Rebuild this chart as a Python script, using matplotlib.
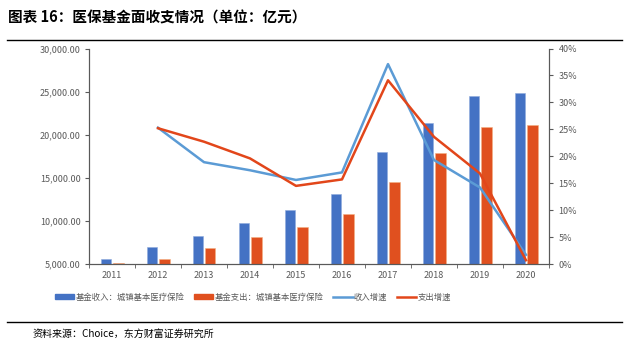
import numpy as np
import matplotlib.pyplot as plt
from matplotlib.ticker import FuncFormatter, MultipleLocator
from matplotlib.lines import Line2D

plt.rcParams['font.family'] = ['Noto Sans CJK SC', 'DejaVu Sans']

# 数据（单位：亿元 / %）
years = ['2011', '2012', '2013', '2014', '2015', '2016', '2017', '2018', '2019', '2020']
income = [5545, 6972, 8283, 9722, 11230, 13086, 17958, 21392, 24455, 24872]
expense = [5110, 5545, 6821, 8167, 9327, 10766, 14478, 17877, 20893, 21090]
income_growth = [np.nan, 25.3, 18.9, 17.4, 15.6, 17.0, 37.1, 19.3, 14.2, 1.7]
expense_growth = [np.nan, 25.2, 22.7, 19.6, 14.5, 15.7, 34.1, 23.6, 16.8, 0.7]

c_inc_bar = '#4472C4'
c_exp_bar = '#E0501F'
c_inc_line = '#5B9BD5'
c_exp_line = '#E2461A'
c_axis = '#595959'
c_text = '#595959'

fig = plt.figure(figsize=(6.4, 3.53), dpi=100)
ax = fig.add_axes([89 / 640, 1 - 264 / 353, 460 / 640, 215.5 / 353])
ax2 = ax.twinx()

x = np.arange(len(years))
w = 0.22
ax.bar(x - 0.135, income, w, bottom=0, color=c_inc_bar, edgecolor='#8FAADC', linewidth=0.4, zorder=2)
ax.bar(x + 0.14, expense, w, bottom=0, color=c_exp_bar, edgecolor='#F4B183', linewidth=0.4, zorder=2)
ax.set_ylim(5000, 30000)
ax.set_xlim(-0.5, len(years) - 0.5)
ax.yaxis.set_major_locator(MultipleLocator(5000))
ax.yaxis.set_major_formatter(FuncFormatter(lambda v, p: f'{v:,.2f}'))
ax.set_xticks(x)
ax.set_xticklabels(years)
ax.set_xticks(np.arange(-0.5, len(years)), minor=True)
ax.tick_params(axis='x', which='major', length=0, pad=5, labelsize=6.5, labelcolor=c_text)
ax.tick_params(axis='x', which='minor', length=3, color=c_axis, direction='out')
ax.tick_params(axis='y', length=3, color=c_axis, labelsize=6.5, labelcolor=c_text, pad=3)

ax2.plot(x, income_growth, color=c_inc_line, lw=1.8, zorder=3)
ax2.plot(x, expense_growth, color=c_exp_line, lw=1.8, zorder=3)
ax2.set_ylim(0, 40)
ax2.yaxis.set_major_locator(MultipleLocator(5))
ax2.yaxis.set_major_formatter(FuncFormatter(lambda v, p: f'{v:.0f}%'))
ax2.tick_params(axis='y', length=3, color=c_axis, labelsize=6.5, labelcolor=c_text, pad=4)

for a in (ax, ax2):
    a.spines['top'].set_visible(False)
    for s in ('left', 'right', 'bottom'):
        a.spines[s].set_color(c_axis)
        a.spines[s].set_linewidth(0.8)

# 标题与分隔线
fig.text(8 / 640, 1 - 18 / 353, '图表 16：医保基金面收支情况（单位：亿元）',
         fontsize=10.5, fontweight='bold', va='center', ha='left', color='black')
fig.add_artist(Line2D([7 / 640, 622 / 640], [1 - 40 / 353, 1 - 40 / 353], color='black', lw=1.0))
fig.add_artist(Line2D([7 / 640, 622 / 640], [1 - 322 / 353, 1 - 322 / 353], color='black', lw=1.0))

handles = [
    plt.Rectangle((0, 0), 1, 1, color=c_inc_bar),
    plt.Rectangle((0, 0), 1, 1, color=c_exp_bar),
    Line2D([], [], color=c_inc_line, lw=1.8),
    Line2D([], [], color=c_exp_line, lw=1.8),
]
labels = ['基金收入：城镇基本医疗保险', '基金支出：城镇基本医疗保险', '收入增速', '支出增速']
leg = fig.legend(handles, labels, loc='center', bbox_to_anchor=(253 / 640, 1 - 297 / 353),
                 ncol=4, frameon=False, fontsize=6, handlelength=2.3, handleheight=0.6,
                 handletextpad=0.15, columnspacing=1.2, borderpad=0)
for t in leg.get_texts():
    t.set_color(c_text)

fig.text(33 / 640, 1 - 334 / 353, '资料来源：Choice，东方财富证券研究所',
         fontsize=7.2, va='center', ha='left', color='black')

fig.savefig('out.png', dpi=100)
